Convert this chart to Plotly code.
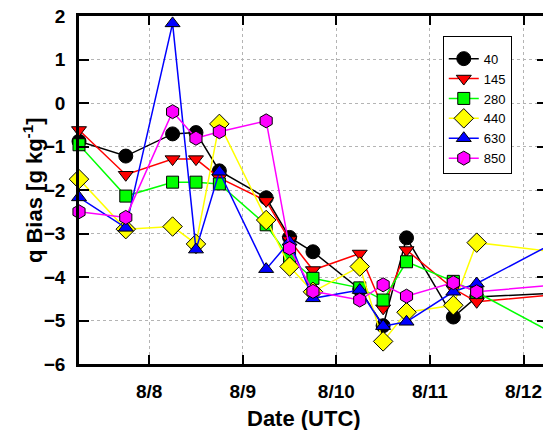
import plotly.graph_objects as go

times = ["2010-08-07 06:00", "2010-08-07 18:00", "2010-08-08 06:00", "2010-08-08 12:00",
         "2010-08-08 18:00", "2010-08-09 06:00", "2010-08-09 12:00", "2010-08-09 18:00",
         "2010-08-10 06:00", "2010-08-10 12:00", "2010-08-10 18:00", "2010-08-11 06:00",
         "2010-08-11 12:00", "2010-08-12 06:00"]

b40 = [-0.88, -1.22, -0.71, -0.68, -1.56, -2.18, -3.09, -3.42, -4.28, -5.12, -3.10, -4.92, -4.46, -4.38]
b145 = [-0.62, -1.65, -1.29, -1.29, -1.72, -2.25, -3.15, -3.84, -3.46, -4.72, -3.38, -4.27, -4.57, -4.42]
b280 = [-0.96, -2.14, -1.82, -1.82, -1.86, -2.80, -3.57, -4.03, -4.25, -4.53, -3.65, -4.10, -4.35, -5.22]
b440 = [-1.75, -2.90, -2.84, -3.24, -0.48, -2.69, -3.76, -4.34, -3.76, -5.48, -4.81, -4.65, -3.21, -3.40]
b630 = [-2.17, -2.87, 1.83, -3.37, -1.58, -3.82, -3.19, -4.49, -4.30, -5.13, -5.03, -4.34, -4.15, -3.30]
b850 = [-2.50, -2.63, -0.20, -0.81, -0.66, -0.41, -3.34, -4.33, -4.53, -4.18, -4.44, -4.13, -4.34, -4.20]

names = ["40", "145", "280", "440", "630", "850"]
values = [b40, b145, b280, b440, b630, b850]
colors = ["#000000", "#ff0000", "#00ff00", "#ffff00", "#0000ff", "#ff00ff"]
symbols = ["circle", "triangle-down", "square", "diamond", "triangle-up", "hexagon"]
sizes = [14, 13, 12, 15, 13, 14]

x_title = "Date (UTC)"
y_title = "q Bias [g kg<sup>-1</sup>]"

FONT = "Liberation Sans, Arial, sans-serif"

fig = go.Figure()
for n, v, c, s, sz in zip(names, values, colors, symbols, sizes):
    fig.add_trace(go.Scatter(
        x=times, y=v, name=n, mode="lines+markers",
        line=dict(color=c, width=1.5),
        marker=dict(symbol=s, size=sz, color=c, line=dict(color="black", width=1)),
        cliponaxis=False,
    ))

# helper trace for right-side ticks
fig.add_trace(go.Scatter(x=[], y=[], yaxis="y2", showlegend=False, hoverinfo="skip"))

fig.update_layout(
    width=543, height=430,
    margin=dict(l=79, r=0, t=16, b=66),
    paper_bgcolor="white", plot_bgcolor="white",
    font=dict(family=FONT, color="black"),
    showlegend=True,
    legend=dict(
        x=0.784, y=0.942, xanchor="left", yanchor="top",
        bordercolor="black", borderwidth=1, bgcolor="white",
        font=dict(family=FONT, size=13, color="black"),
        itemwidth=30,
        title=dict(text="&nbsp;", font=dict(size=5)),
    ),
    xaxis=dict(
        type="date",
        range=["2010-08-07 06:00", "2010-08-12 05:00"],
        tick0="2010-08-08", dtick=86400000, tickformat="%-m/%-d",
        ticks="inside", ticklen=9, tickwidth=2, tickcolor="black",
        showline=True, linecolor="black", linewidth=2.5, mirror="ticks",
        showgrid=True, gridcolor="#b4b4b4", griddash="dot", gridwidth=1,
        tickfont=dict(family=FONT, size=19, weight="bold"),
        ticklabelstandoff=8,
        zeroline=False,
    ),
    yaxis=dict(
        range=[-6, 2], dtick=1,
        ticks="inside", ticklen=10, tickwidth=2, tickcolor="black",
        showline=True, linecolor="black", linewidth=2.5, mirror=False,
        showgrid=True, gridcolor="#b4b4b4", griddash="dot", gridwidth=1,
        tickfont=dict(family=FONT, size=19, weight="bold"),
        ticklabelstandoff=7,
        zeroline=False,
    ),
    yaxis2=dict(
        overlaying="y", side="right", range=[-6, 2], dtick=1,
        ticks="inside", ticklen=6, tickwidth=2, tickcolor="black",
        showticklabels=False, showgrid=False, showline=False, zeroline=False,
    ),
    annotations=[
        dict(text=x_title, xref="paper", yref="paper", x=0.485, y=-0.158,
             xanchor="center", yanchor="middle", showarrow=False,
             font=dict(family=FONT, size=22, weight="bold", color="black")),
        dict(text=y_title, xref="paper", yref="paper", x=-0.099, y=0.5,
             xanchor="center", yanchor="middle", showarrow=False, textangle=-90,
             font=dict(family=FONT, size=22, weight="bold", color="black")),
    ],
)

fig.write_html("out.html", config={"displayModeBar": False},
               post_script="document.body.style.margin='0';document.body.style.overflow='hidden';")
